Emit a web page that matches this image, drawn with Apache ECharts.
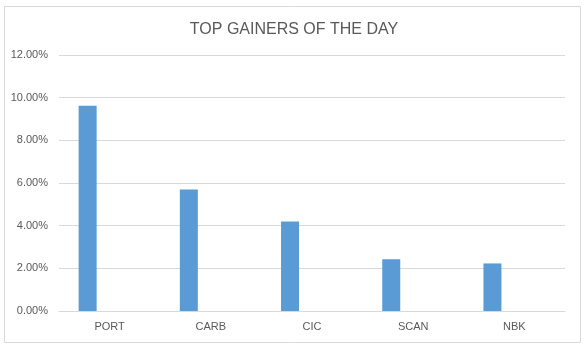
<!DOCTYPE html>
<html>
<head>
<meta charset="utf-8">
<script src="https://cdn.jsdelivr.net/npm/echarts@6/dist/echarts.min.js"></script>
<style>html,body{margin:0;padding:0;background:#fff}#c{width:588px;height:351px}</style>
</head>
<body>
<div id="c"></div>
<script>
var categories = ['PORT', 'CARB', 'CIC', 'SCAN', 'NBK'];
var gainValues = [9.62, 5.69, 4.19, 2.42, 2.23];
var emptyValues = [null, null, null, null, null];
var yTicks = { min: 0, max: 12, interval: 2 };
var titleText = 'TOP GAINERS OF THE DAY';

var chart = echarts.init(document.getElementById('c'));
var font = 'Liberation Sans';
chart.setOption({
  animation: false,
  backgroundColor: '#fff',
  graphic: [{
    type: 'rect', shape: { x: 4.5, y: 6.5, width: 576, height: 336 },
    style: { fill: 'none', stroke: '#d9d9d9', lineWidth: 1 }, silent: true
  }],
  title: {
    text: titleText, left: 'center', top: 22, padding: 0,
    textStyle: { fontFamily: font, fontSize: 16, fontWeight: 'normal', color: '#595959' }
  },
  grid: { left: 59, right: 23, top: 55, bottom: 40, containLabel: false },
  xAxis: {
    type: 'category', data: categories,
    axisLine: { show: true, lineStyle: { color: '#d9d9d9' } },
    axisTick: { show: false },
    axisLabel: { fontFamily: font, fontSize: 11, color: '#595959', margin: 10 }
  },
  yAxis: {
    type: 'value', min: yTicks.min, max: yTicks.max, interval: yTicks.interval,
    axisLine: { show: false }, axisTick: { show: false },
    splitLine: { lineStyle: { color: '#d9d9d9' } },
    axisLabel: { fontFamily: font, fontSize: 11, color: '#595959', margin: 11,
      formatter: function (v) { return v.toFixed(2) + '%'; } }
  },
  series: [
    { type: 'bar', data: gainValues, barWidth: 18, barGap: '144%', itemStyle: { color: '#5b9bd5' } },
    { type: 'bar', data: emptyValues, barWidth: 18, itemStyle: { color: '#ed7d31' } }
  ]
});
</script>
</body>
</html>
